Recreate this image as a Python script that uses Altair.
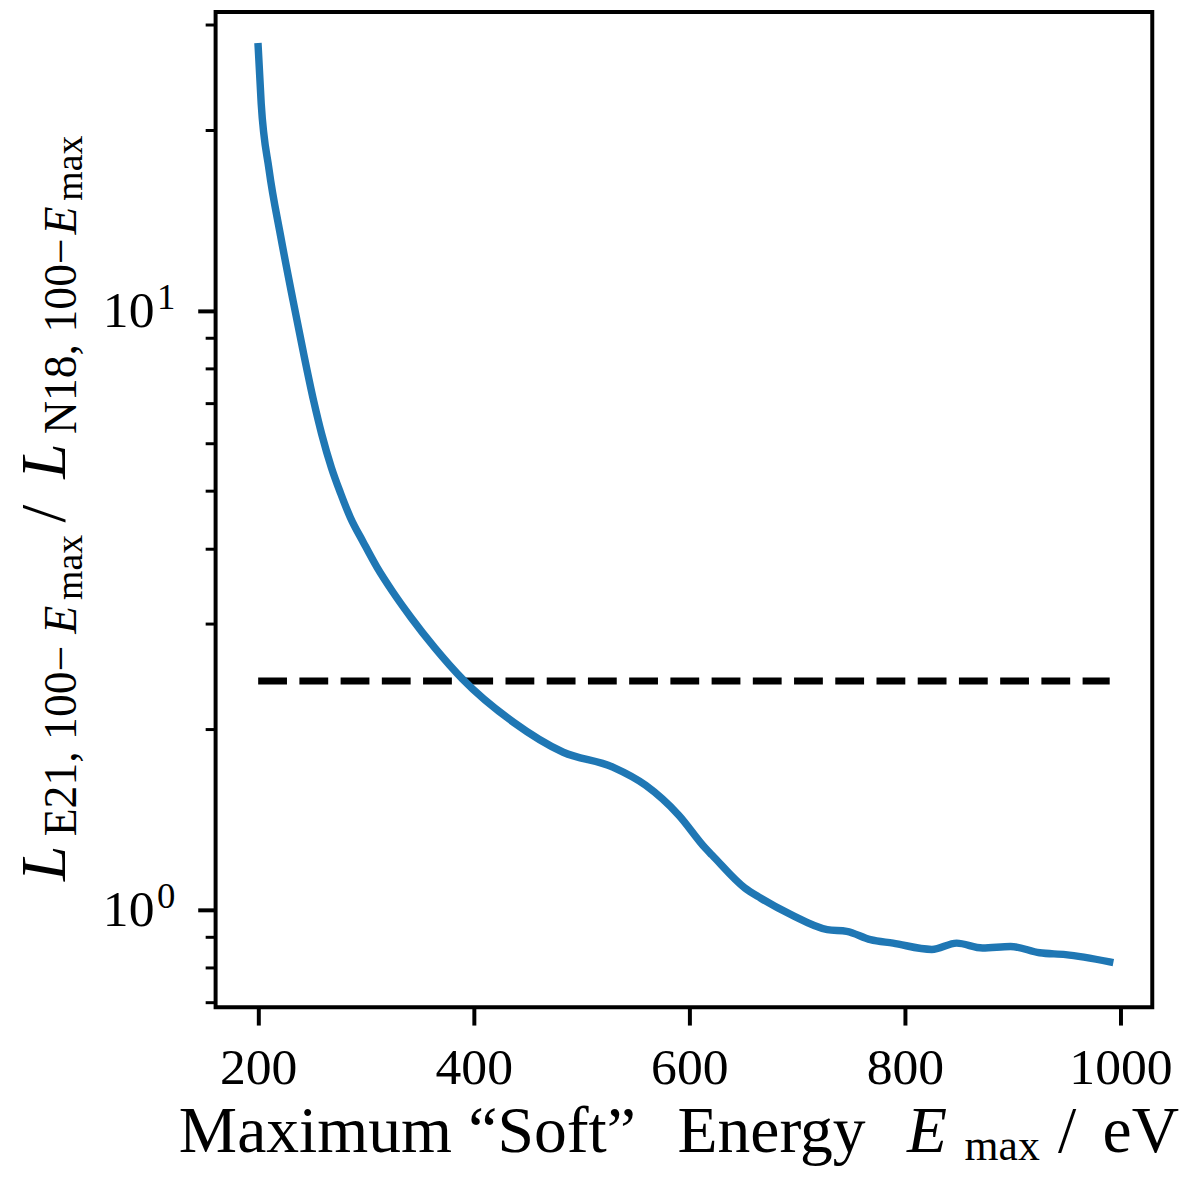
import altair as alt
import pandas as pd

# curve: E21 / N18 luminosity ratio against the maximum "soft" energy (eV)
energy = [200, 202.8, 210.1, 220.7, 232.6, 241.8, 251.5, 258.9, 268.0, 276.3, 285.5,
          297.5, 310.3, 325.1, 341.6, 363.7, 389.4, 437, 483, 529, 559.5,
          590.2, 615, 621, 651.5, 666, 694.4, 728, 746, 768, 789, 825, 848, 872, 898,
          925, 949, 990]
ratio = [27.6, 22.2, 17.2, 13.37, 10.35, 8.55, 7.07, 6.23, 5.47, 4.97, 4.52,
         4.11, 3.73, 3.39, 3.08, 2.74, 2.43, 2.056, 1.833, 1.731, 1.614,
         1.439, 1.267, 1.235, 1.088, 1.047, 0.982, 0.927, 0.921, 0.892, 0.88, 0.859, 0.88, 0.864, 0.869,
         0.848, 0.842, 0.819]

# dashed reference level
ref_energy = [200, 990]
ref_ratio = [2.41, 2.41]

x_ticks = [200, 400, 600, 800, 1000]
y_major = [1, 10]
y_sup = ['0', '1']
y_minor = [0.7, 0.8, 0.9, 2, 3, 4, 5, 6, 7, 8, 9, 20, 30]

x_title = ['Maximum \u201cSoft\u201d', 'Energy', 'E', 'max', '/', 'eV']
y_title = ['L', 'E21, 100\u2212', 'E', 'max', '/', 'L', 'N18, 100\u2212', 'E', 'max']

FONT = 'Liberation Serif'

curve = pd.DataFrame({'energy': energy, 'ratio': ratio})
ref = pd.DataFrame({'energy': ref_energy, 'ratio': ref_ratio})
minor = pd.DataFrame({'ratio': y_minor})
sup = pd.DataFrame({'ratio': y_major, 's': y_sup})

xs = alt.Scale(domain=[160.5, 1029.5], nice=False, zero=False)
ys = alt.Scale(type='log', domain=[0.688, 31.55], nice=False)

x_axis = alt.Axis(values=x_ticks, title='', grid=False, domain=False, format='d',
                  tickSize=18, tickWidth=4, tickColor='black',
                  labelFont=FONT, labelFontSize=52, labelColor='black', labelPadding=18,
                  labelFlush=False, labelOverlap=False)
y_axis = alt.Axis(values=y_major, title='', grid=False, domain=False, labelExpr="'10'",
                  tickSize=18, tickWidth=4, tickColor='black',
                  labelFont=FONT, labelFontSize=52, labelColor='black', labelPadding=44,
                  labelOverlap=False)

dashed = alt.Chart(ref).mark_line(color='black', strokeWidth=7, strokeDash=[29, 12.5]).encode(
    x=alt.X('energy:Q', scale=xs, axis=x_axis),
    y=alt.Y('ratio:Q', scale=ys, axis=y_axis)
)

line = alt.Chart(curve).mark_line(color='#1f77b4', strokeWidth=7.5, strokeCap='square',
                                  interpolate='monotone').encode(
    x=alt.X('energy:Q', scale=xs, axis=x_axis),
    y=alt.Y('ratio:Q', scale=ys, axis=y_axis)
)

minor_ticks = alt.Chart(minor).mark_rule(color='black', strokeWidth=3).encode(
    y=alt.Y('ratio:Q', scale=ys, axis=y_axis),
    x=alt.value(-10),
    x2=alt.value(0)
)

sups = alt.Chart(sup).mark_text(font=FONT, fontSize=37, align='left', baseline='alphabetic',
                                dy=-2, color='black').encode(
    y=alt.Y('ratio:Q', scale=ys, axis=y_axis),
    x=alt.value(-59),
    text='s:N'
)

one = pd.DataFrame({'a': [0]})


def piece(txt, x, y, size, italic=False, angle=0):
    kw = dict(text=txt, font=FONT, fontSize=size, align='left', baseline='alphabetic', color='black')
    if italic:
        kw['fontStyle'] = 'italic'
    if angle:
        kw['angle'] = angle
    return alt.Chart(one).mark_text(**kw).encode(x=alt.value(x), y=alt.value(y))


# x axis title
xt = [
    piece(x_title[0], -37, 1148, 66),
    piece(x_title[1], 465, 1148, 66),
    piece(x_title[2], 696, 1148, 66, italic=True),
    piece(x_title[3], 754, 1156, 44),
    piece(x_title[4], 848, 1148, 66),
    piece(x_title[5], 893, 1148, 66),
]

# y axis title, read bottom to top
yt = [
    piece(y_title[0], -152, 875, 64, italic=True, angle=270),
    piece(y_title[1], -141, 830, 46, angle=270),
    piece(y_title[2], -141, 626, 46, italic=True, angle=270),
    piece(y_title[3], -135, 592, 38, angle=270),
    piece(y_title[4], -152, 514, 64, angle=270),
    piece(y_title[5], -152, 470, 64, italic=True, angle=270),
    piece(y_title[6], -141, 425, 46, angle=270),
    piece(y_title[7], -141, 224, 46, italic=True, angle=270),
    piece(y_title[8], -135, 190, 38, angle=270),
]

chart = alt.layer(dashed, line, minor_ticks, sups, *xt, *yt).properties(
    width=943, height=1002,
    padding={'left': 209, 'top': 0, 'right': 40, 'bottom': 163},
    autosize=alt.AutoSizeParams(type='none')
).configure_view(stroke='black', strokeWidth=4)

chart.save('out.html', embed_options={'renderer': 'svg', 'actions': False})
